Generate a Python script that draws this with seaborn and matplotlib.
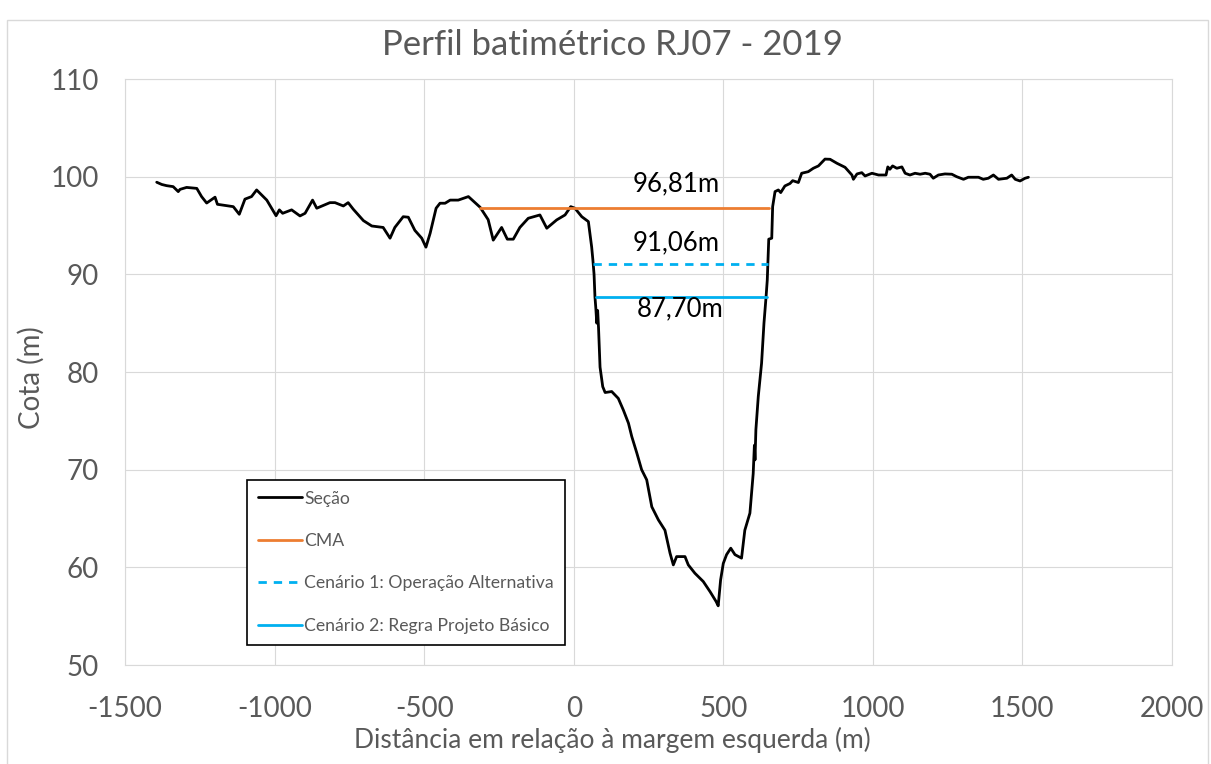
import numpy as np
import pandas as pd
import matplotlib
matplotlib.use('Agg')
import matplotlib.pyplot as plt
import seaborn as sns

""" DATA """
# secao batimetrica (distancia em m, cota em m)
dist = [-1394, -1377, -1361, -1339, -1322, -1316, -1294, -1260, -1244, -1227,
        -1199, -1191, -1138, -1118, -1099, -1077, -1060, -1026, -995, -984,
        -973, -943, -915, -898, -873, -859, -815, -798, -770, -754,
        -737, -703, -675, -637, -614, -598, -570, -553, -531, -508,
        -494, -480, -460, -447, -430, -413, -386, -352, -313, -286,
        -269, -241, -222, -202, -180, -152, -113, -90, -57, -29,
        -10, 4, 27, 49, 60, 64, 68, 71, 74, 77,
        80, 83, 88, 97, 105, 127, 149, 166, 183, 194,
        211, 227, 244, 261, 283, 305, 322, 333, 344, 372,
        383, 405, 433, 456, 476, 483, 491, 500, 511, 525,
        539, 561, 572, 589, 600, 604, 606, 609, 617, 628,
        636, 643, 647, 652, 662, 665, 673, 684, 692, 706,
        723, 732, 751, 762, 784, 801, 818, 840, 857, 880,
        907, 930, 935, 947, 963, 974, 997, 1019, 1044, 1050,
        1057, 1066, 1080, 1097, 1108, 1124, 1141, 1158, 1175, 1191,
        1202, 1219, 1241, 1264, 1280, 1303, 1319, 1353, 1369, 1386,
        1403, 1420, 1448, 1464, 1476, 1492, 1509, 1520]
cota = [99.43, 99.20, 99.08, 98.98, 98.47, 98.70, 98.90, 98.80, 97.96, 97.30,
        97.90, 97.17, 96.93, 96.15, 97.70, 97.96, 98.64, 97.60, 96.00, 96.60,
        96.25, 96.60, 95.98, 96.25, 97.60, 96.77, 97.34, 97.34, 97.00, 97.34,
        96.67, 95.50, 94.95, 94.80, 93.70, 94.80, 95.90, 95.85, 94.50, 93.70,
        92.78, 94.20, 96.77, 97.28, 97.28, 97.60, 97.60, 97.96, 96.87, 95.60,
        93.50, 94.80, 93.60, 93.60, 94.80, 95.74, 96.08, 94.72, 95.57, 96.08,
        96.93, 96.77, 95.90, 95.40, 92.80, 91.50, 90.00, 87.70, 86.50, 85.00,
        86.30, 84.50, 80.50, 78.50, 77.90, 78.00, 77.30, 76.10, 74.76, 73.40,
        71.70, 70.00, 68.96, 66.20, 64.86, 63.80, 61.45, 60.25, 61.10, 61.10,
        60.25, 59.40, 58.55, 57.50, 56.50, 56.06, 58.70, 60.40, 61.30, 61.96,
        61.30, 60.94, 63.80, 65.55, 69.60, 72.50, 71.00, 74.10, 77.50, 80.90,
        85.00, 87.70, 89.40, 93.60, 93.70, 96.93, 98.47, 98.64, 98.37, 99.05,
        99.30, 99.59, 99.40, 100.35, 100.51, 100.86, 101.10, 101.80, 101.78, 101.37,
        100.96, 100.17, 99.73, 100.28, 100.41, 100.07, 100.35, 100.17, 100.17, 101.00,
        100.76, 101.10, 100.86, 101.00, 100.35, 100.17, 100.35, 100.25, 100.35, 100.25,
        99.84, 100.17, 100.28, 100.25, 100.00, 99.73, 99.94, 99.94, 99.73, 99.84,
        100.17, 99.73, 99.84, 100.17, 99.73, 99.56, 99.84, 99.94]

# niveis de agua
cma_x = [-313, 652]
cma = 96.81
cen1_x = [65, 650]
cen1 = 91.06
cen2_x = [73, 646]
cen2 = 87.70

labels = ['Seção', 'CMA', 'Cenário 1: Operação Alternativa', 'Cenário 2: Regra Projeto Básico']
xticks = [-1500, -1000, -500, 0, 500, 1000, 1500, 2000]
yticks = [50, 60, 70, 80, 90, 100, 110]

""" SETTINGS """
def settings():
	sns.set_style('whitegrid', {'grid.color': '#D9D9D9', 'axes.edgecolor': '#D9D9D9'})
	plt.rcParams['font.family'] = ['Lato', 'DejaVu Sans']
	plt.rcParams['axes.unicode_minus'] = False
	plt.rcParams['text.color'] = '#595959'
	plt.rcParams['axes.labelcolor'] = '#595959'
	plt.rcParams['xtick.color'] = '#595959'
	plt.rcParams['ytick.color'] = '#595959'

def level(ax, xs, y, color, style, label):
	""" draws a horizontal water level line between two distances """
	df = pd.DataFrame({'x': xs, 'y': [y] * len(xs)})
	sns.lineplot(data=df, x='x', y='y', color=color, linestyle=style, linewidth=2,
				 label=label, ax=ax, sort=False, estimator=None)

def plot():
	settings()
	fig = plt.figure(figsize=(12.11, 7.64), dpi=100)
	ax = fig.add_axes([125/1211, 1 - 665/764, 1047/1211, 586/764])

	secao = pd.DataFrame({'dist': dist, 'cota': cota})
	sns.lineplot(data=secao, x='dist', y='cota', color='black', linewidth=2.0,
				 label=labels[0], ax=ax, sort=False, estimator=None)
	level(ax, cma_x, cma, '#ED7D31', '-', labels[1])
	level(ax, cen1_x, cen1, '#00B0F0', (0, (3, 2.5)), labels[2])
	level(ax, cen2_x, cen2, '#00B0F0', '-', labels[3])

	ax.text(343, 99.3, f'{cma:.2f}m'.replace('.', ','), ha='center', va='center', fontsize=18.5, color='black')
	ax.text(343, 93.2, f'{cen1:.2f}m'.replace('.', ','), ha='center', va='center', fontsize=18.5, color='black')
	ax.text(356, 86.5, f'{cen2:.2f}m'.replace('.', ','), ha='center', va='center', fontsize=18.5, color='black')

	ax.set_xlim(-1500, 2000)
	ax.set_ylim(50, 110)
	ax.set_xticks(xticks)
	ax.set_yticks(yticks)
	ax.tick_params(labelsize=20, length=0)
	ax.tick_params(axis='x', pad=22)
	ax.tick_params(axis='y', pad=19)
	ax.set_xlabel('Distância em relação à margem esquerda (m)', fontsize=19)
	ax.xaxis.set_label_coords((612 - 125) / 1047, -0.105)
	ax.set_ylabel('Cota (m)', fontsize=20)
	ax.yaxis.set_label_coords(-0.077, 0.49)
	fig.text(612 / 1211, 1 - 45 / 764, 'Perfil batimétrico RJ07 - 2019', fontsize=25,
			 ha='center', va='center', color='#595959')

	leg = ax.legend(loc='upper left', bbox_to_anchor=(0.1165, 0.3157), borderaxespad=0,
					fontsize=12.7, handlelength=2.5, handletextpad=0.15,
					labelspacing=1.5, borderpad=0.6, fancybox=False, framealpha=1)
	leg.get_frame().set_edgecolor('black')
	leg.get_frame().set_linewidth(1.2)

	fig.patches.append(plt.Rectangle((7/1211, -0.01), 1201/1211, 1.01 - 20/764, transform=fig.transFigure,
									 fill=False, edgecolor='#D9D9D9', linewidth=1))
	fig.savefig('out.png', dpi=100)
	plt.close()

plot()
